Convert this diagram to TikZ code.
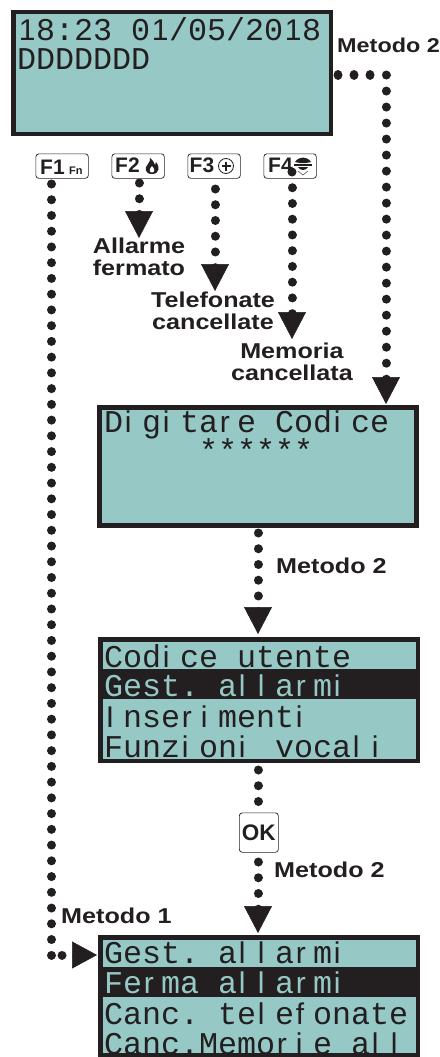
\documentclass[tikz,border=0pt]{standalone}
\usepackage{fontspec}
\usetikzlibrary{arrows.meta,calc}
\setmainfont{Liberation Sans}
\newfontfamily\lcdmono{Liberation Mono}
\newfontfamily\lcdsans{Liberation Sans}
\newfontfamily\labfont[FakeStretch=1.17,BoldFont={Liberation Sans Bold}]{Liberation Sans}
\definecolor{lcd}{HTML}{96C8C6}
\definecolor{ink}{HTML}{231F20}
\newcommand{\barglyph}[1]{\makebox[19pt][l]{\hspace{1.6pt}\lcdsans\fontsize{30}{30}\selectfont #1}}
\newcommand{\monoglyph}[1]{\makebox[19pt][l]{\lcdmono\fontsize{31.7}{31.7}\selectfont #1}}
\ExplSyntaxOn
\NewDocumentCommand\lcdtext{m}{
  \str_map_inline:nn{#1}{
    \str_case:nnF{##1}{
      {i}{\barglyph{i}}
      {l}{\barglyph{l}}
      {I}{\barglyph{I}}
      {r}{\barglyph{r}}
      {f}{\barglyph{f}}
      {1}{\barglyph{1}}
    }{\monoglyph{##1}}
  }
}
\ExplSyntaxOff
\tikzset{
  x=1pt,y=-1pt,
  screen/.style={draw=ink,fill=lcd,line width=4.5pt,anchor=north west,inner sep=0pt,minimum width=#1,minimum height=121.5pt},
  darkrow/.style={fill=ink,draw=none},
  row/.style={anchor=base west,inner sep=0pt,text=ink},
  keybox/.style={draw=ink,fill=white,line width=.7pt,rounded corners=3pt,anchor=north west,minimum width=52.5pt,minimum height=24.5pt,inner sep=0pt},
  keylab/.style={anchor=base west,inner sep=0pt,text=ink,font=\bfseries\fontsize{21}{21}\selectfont},
  lab/.style={inner sep=0pt,text=ink,align=center,font=\labfont\bfseries\fontsize{21.5}{22}\selectfont},
  dotted line/.style={draw=ink,line width=9pt,line cap=round,dash pattern=on 0.01pt off #1},
  dotted line/.default=15.73pt,
  head/.style={draw=ink,line width=.5pt,-{Triangle[width=28pt,length=27pt,fill=ink]}},
}
\newcommand{\dotarrow}[2]{%
  \draw[dotted line,shorten >=20pt] (#1) -- (#2);
  \draw[head] ($(#2)+(0,-3)$) -- (#2);}
\begin{document}
\begin{tikzpicture}
\useasboundingbox (0,0) rectangle (439,1057);
% named end points
\coordinate (f1s) at (51.5,184);
\coordinate (f1c) at (51.5,955);
\coordinate (f1d) at (72.5,955);
\coordinate (f2s) at (139,183);
\coordinate (f2e) at (139,238);
\coordinate (f3s) at (215,189);
\coordinate (f3e) at (215,291);
\coordinate (f4s) at (292,172);
\coordinate (f4e) at (292,339);
\coordinate (m2a) at (338,75);
\coordinate (m2c) at (386,75);
\coordinate (b2in) at (386,404);
\coordinate (b2s) at (258,533);
\coordinate (b3in) at (258,634);
\coordinate (b3s) at (258,770);
\coordinate (oks) at (258,862);
\coordinate (b4in) at (258,933);
\coordinate (b4w) at (97,955);
% screens
\node[screen=317.5pt] (s1) at (11,10) {};
\node[row] (s1a) at (17,41) {\lcdtext{18:23 01/05/2018}};
\node[row] (s1b) at (17,70) {\lcdtext{DDDDDDD}};
\node[screen=317pt,minimum height=118pt] (s2) at (97,405) {};
\node[row] (s2a) at (104,432) {\lcdtext{Digitare Codice}};
\node[row] (s2b) at (199,461) {\lcdtext{******}};
\node[screen=317.5pt] (s3) at (98,637) {};
\fill[darkrow] (100,669) rectangle (417,699);
\node[row] (s3a) at (104,667) {\lcdtext{Codice utente}};
\node[row,text=lcd] (s3b) at (104,696) {\lcdtext{Gest. allarmi}};
\node[row] (s3c) at (104,727) {\lcdtext{Inserimenti}};
\node[row] (s3d) at (104,757) {\lcdtext{Funzioni vocali}};
\draw[ink,line width=4.5pt] (98,760.75) -- (420,760.75);
\node[screen=317.5pt,minimum height=117.5pt] (s4) at (98,935) {};
\fill[darkrow] (100,967) rectangle (417,997);
\node[row] (s4a) at (104,963) {\lcdtext{Gest. allarmi}};
\node[row,text=lcd] (s4b) at (104,993) {\lcdtext{Ferma allarmi}};
\node[row] (s4c) at (104,1024) {\lcdtext{Canc. telefonate}};
\node[row] (s4d) at (104,1054) {\lcdtext{Canc.Memorie all}};
% connectors
\draw[dotted line] (f1s) -- (f1c);
\draw[dotted line=10.5pt] (f1c) -- (f1d);
\draw[head,-{Triangle[width=27pt,length=25pt,fill=ink]}] (f1d) -- (b4w);
\dotarrow{f2s}{f2e}
\dotarrow{f3s}{f3e}
\dotarrow{f4s}{f4e}
\draw[dotted line=16pt,shorten >=20pt] (m2a) -- (m2c) -- (b2in);
\draw[head] ($(b2in)+(0,-3)$) -- (b2in);
\dotarrow{b2s}{b3in}
\draw[dotted line] (b3s) -- (258,812);
\dotarrow{oks}{b4in}
% keys
\node[keybox] (f1) at (35.5,153.5) {};
\node[keylab] (f1t) at (40,174) {F1};
\node[anchor=base west,inner sep=0pt,text=ink,font=\bfseries\fontsize{11}{11}\selectfont] (f1n) at (69,174) {Fn};
\node[keybox] (f2) at (111.5,153.5) {};
\node[keylab] (f2t) at (115,172.5) {F2};
\fill[ink] (152,174) .. controls (145,174) and (144,168) .. (148,164) .. controls (150,162) and (150,160) .. (150,158) .. controls (153,160) and (154,163) .. (155,165) .. controls (156,164) and (156,163) .. (156,162) .. controls (160,166) and (160,174) .. (152,174) -- cycle;
\fill[white] (152,172.5) .. controls (149,172.5) and (149,169) .. (152,166) .. controls (155,169) and (155,172.5) .. (152,172.5) -- cycle;
\node[keybox] (f3) at (187.5,153.5) {};
\node[keylab] (f3t) at (189.5,172.5) {F3};
\draw[ink,line width=.8pt] (226,166) circle[radius=7.5pt];
\draw[ink,line width=2pt] (221.5,166) -- (230.5,166) (226,161.5) -- (226,170.5);
\node[keybox] (f4) at (263.5,153.5) {};
\node[keylab] (f4t) at (268,172.5) {F4};
\fill[ink] (295,162) .. controls (299,156) and (307,156) .. (311,162) -- (306,163) -- (300,163) -- cycle;
\fill[ink] (294,164) rectangle (312,166);
\fill[ink] (298,167) .. controls (300,171) and (306,171) .. (308,167) -- cycle;
\draw[ink,line width=.4pt] (298,171) -- (303,175) -- (308,171);
\fill[ink] (292,172) circle[radius=4.5pt];
\node[keybox,minimum width=39pt,minimum height=39.5pt] (ok) at (239,812.5) {};
\node[anchor=center,inner sep=0pt,text=ink,font=\bfseries\fontsize{22.5}{22.5}\selectfont] (okt) at (ok.center) {OK};
% labels
\node[lab,anchor=west,font=\labfont\bfseries\fontsize{20}{20}\selectfont] (l1) at (337,45) {Metodo 2};
\node[lab] (l2) at (139,257) {Allarme\\fermato};
\node[lab] (l3) at (213,311) {Telefonate\\cancellate};
\node[lab] (l4) at (292,362) {Memoria\\cancellata};
\node[lab,anchor=west] (l5) at (276,566) {Metodo 2};
\node[lab,anchor=west] (l6) at (274,870) {Metodo 2};
\node[lab,anchor=west] (l7) at (61,916) {Metodo 1};
\end{tikzpicture}
\end{document}
